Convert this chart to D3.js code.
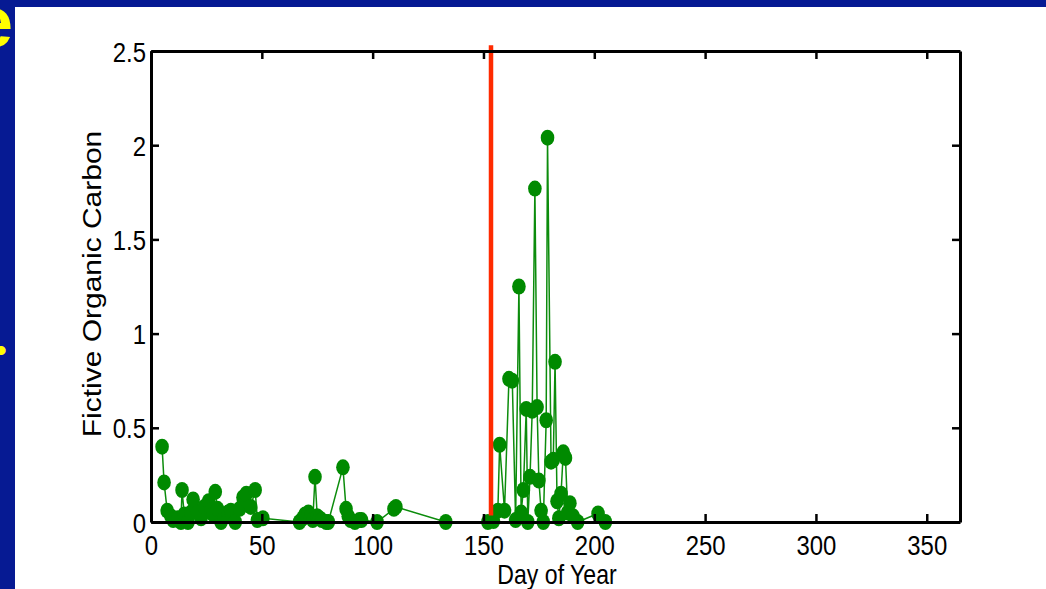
<!DOCTYPE html>
<html>
<head>
<meta charset="utf-8">
<script src="https://cdn.jsdelivr.net/npm/d3@7"></script>
<style>
  body { margin: 0; background: #061a93; }
  svg { display: block; }
</style>
</head>
<body>
<script>
// 0.1 data (day of year, fictive organic carbon)
var days = [5.0, 5.9, 7.3, 9, 10, 12, 13.5, 14, 15, 16.7, 18, 19, 21, 22.6, 24, 26, 27, 28, 29, 30,
    31.6, 33, 34.7, 36, 38, 40, 41.5, 43, 45, 47, 48, 50.5,
    67, 68.5, 69.5, 71, 72, 73, 74, 75, 76, 77, 79, 80,
    86.6, 88, 89, 90, 92, 94, 95, 102, 109.6, 110.5, 133,
    152, 154.5, 156.5, 157.3, 159.5, 161.5, 163, 164.5, 166, 167, 168, 169.3, 170, 171, 172,
    173.2, 174.2, 175, 176, 177, 178.3, 178.9, 180.5, 181.5, 182.3, 183.2, 184, 185, 186, 187,
    188, 189, 190.5, 192.5, 201.7, 205];
var carbon = [0.40, 0.21, 0.06, 0.03, 0.01, 0.02, 0.0, 0.17, 0.04, 0.0, 0.05, 0.12, 0.05, 0.02, 0.08, 0.11, 0.06, 0.04, 0.16, 0.07,
    0.0, 0.03, 0.05, 0.06, 0.0, 0.07, 0.13, 0.15, 0.08, 0.17, 0.01, 0.02,
    0.0, 0.02, 0.04, 0.05, 0.03, 0.01, 0.24, 0.03, 0.02, 0.01, 0.0, 0.0,
    0.29, 0.07, 0.03, 0.01, 0.0, 0.01, 0.01, 0.0, 0.07, 0.08, 0.0,
    0.0, 0.005, 0.06, 0.41, 0.06, 0.76, 0.75, 0.01, 1.25, 0.05, 0.17, 0.60, 0.0, 0.24, 0.59,
    1.77, 0.61, 0.22, 0.06, 0.0, 0.54, 2.04, 0.32, 0.33, 0.85, 0.11, 0.02, 0.15, 0.37, 0.34,
    0.05, 0.10, 0.03, 0.0, 0.045, 0.0];
var xTicks = [0, 50, 100, 150, 200, 250, 300, 350];
var yTicks = [0, 0.5, 1, 1.5, 2, 2.5];
var yTickLabels = ['0', '0.5', '1', '1.5', '2', '2.5'];
// the red marker line: day, and the value range it covers
var redDay = [153.4];
var redSpan = [0.035, 2.53];

var W = 1046, H = 589;
var squeeze = 0.855; // the original picture is a bit squeezed sideways
var fontFam = 'Arial, "Liberation Sans", Helvetica, sans-serif';

// 0.2 svg and slide background
var svg = d3.select('body').append('svg').attr('width', W).attr('height', H);
svg.append('rect').attr('width', W).attr('height', H).attr('fill', '#061a93');
svg.append('rect').attr('x', 15).attr('y', 7).attr('width', W - 15).attr('height', H - 7).attr('fill', '#ffffff');

// bits of the slide title that stick out on the left
svg.append('text').attr('x', 13).attr('y', 47).attr('text-anchor', 'end')
    .style('font-family', fontFam).style('font-weight', 'bold').style('font-size', '72px')
    .attr('fill', '#ffff00').text('e');
svg.append('text').attr('x', 1).attr('y', 362).attr('text-anchor', 'middle')
    .style('font-family', fontFam).style('font-size', '34px')
    .attr('fill', '#ffff00').text('\u2022');

// 0.3 scales
var x = d3.scaleLinear().domain([0, 365]).range([151, 960]);
var y = d3.scaleLinear().domain([0, 2.5]).range([522, 51]);

// 0.4 data line and markers
var pts = days.map(function(d, i){ return [d, carbon[i]]; });
var lineGen = d3.line().x(function(d){ return x(d[0]); }).y(function(d){ return y(d[1]); });

var plotG = svg.append('g').attr('class', 'plotg');
plotG.append('path').datum(pts)
    .attr('d', lineGen)
    .attr('fill', 'none')
    .attr('stroke', '#0c8c0c')
    .attr('stroke-width', 1.5);

plotG.selectAll('ellipse.mk').data(pts).enter().append('ellipse')
    .attr('class', 'mk')
    .attr('cx', function(d){ return x(d[0]); })
    .attr('cy', function(d){ return y(d[1]); })
    .attr('rx', 6.8)
    .attr('ry', 8)
    .attr('fill', '#008a00');

// red vertical line
plotG.selectAll('line.red').data(redDay).enter().append('line')
    .attr('class', 'red')
    .attr('x1', function(d){ return x(d); }).attr('x2', function(d){ return x(d); })
    .attr('y1', y(redSpan[0])).attr('y2', y(redSpan[1]))
    .attr('stroke', '#ff2a00')
    .attr('stroke-width', 4.5);

// 0.5 axes (box with inward ticks)
function styleAxis(g){
    g.select('.domain').attr('stroke', '#000').attr('stroke-width', 3);
    g.selectAll('.tick line').attr('stroke', '#000').attr('stroke-width', 2.5);
}
var xAxis = svg.append('g').attr('transform', 'translate(0,' + 522 + ')')
    .call(d3.axisBottom(x).tickValues(xTicks).tickSizeInner(-8).tickSizeOuter(0));
var xTop = svg.append('g').attr('transform', 'translate(0,' + 51 + ')')
    .call(d3.axisTop(x).tickValues(xTicks).tickSizeInner(-8).tickSizeOuter(0).tickFormat(''));
var yAxis = svg.append('g').attr('transform', 'translate(' + 151 + ',0)')
    .call(d3.axisLeft(y).tickValues(yTicks).tickSizeInner(-8).tickSizeOuter(0)
        .tickFormat(function(d, i){ return yTickLabels[i]; }));
var yRight = svg.append('g').attr('transform', 'translate(' + 960 + ',0)')
    .call(d3.axisRight(y).tickValues(yTicks).tickSizeInner(-8).tickSizeOuter(0).tickFormat(''));
[xAxis, xTop, yAxis, yRight].forEach(styleAxis);

xAxis.selectAll('.tick text')
    .attr('y', 33).attr('dy', 0).attr('x', 0)
    .attr('transform', 'scale(' + squeeze + ',1)')
    .attr('fill', '#000')
    .style('font-family', fontFam).style('font-size', '28px');
yAxis.selectAll('.tick text')
    .attr('x', -5 / squeeze).attr('dy', '0.36em')
    .attr('transform', 'scale(' + squeeze + ',1)')
    .attr('fill', '#000')
    .style('font-family', fontFam).style('font-size', '28px');

// 0.6 axis titles
svg.append('text')
    .attr('transform', 'translate(557,584) scale(' + squeeze + ',1)')
    .attr('text-anchor', 'middle')
    .style('font-family', fontFam).style('font-size', '27px')
    .attr('fill', '#000')
    .text('Day of Year');
svg.append('text')
    .attr('transform', 'translate(101,284) rotate(-90) scale(1,' + squeeze + ')')
    .attr('text-anchor', 'middle')
    .style('font-family', fontFam).style('font-size', '30px')
    .attr('fill', '#000')
    .text('Fictive Organic Carbon');
</script>
</body>
</html>
